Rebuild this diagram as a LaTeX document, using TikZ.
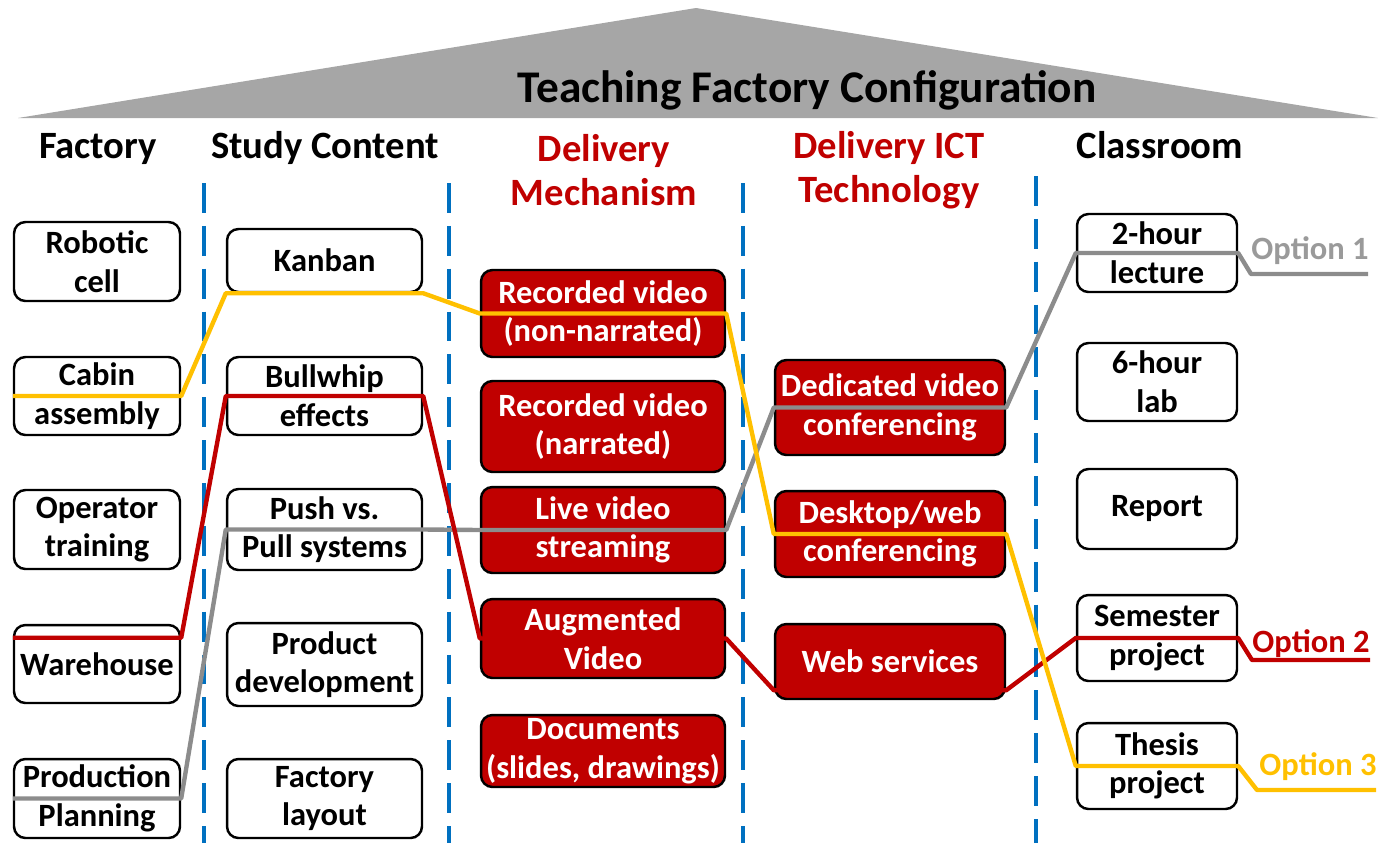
\documentclass[tikz,border=0pt]{standalone}
\usepackage{fontspec}
\setmainfont{Carlito}
\usetikzlibrary{calc}
\definecolor{tfred}{HTML}{C00000}
\definecolor{tfyellow}{HTML}{FFC000}
\definecolor{tfgray}{HTML}{8C8C8C}
\definecolor{tfroof}{HTML}{A6A6A6}
\definecolor{tfblue}{HTML}{0070C0}
\definecolor{tfopt}{HTML}{9A9A9A}
\newcommand\tfboxfont{\fontsize{18.5}{22}\selectfont\bfseries}
\newcommand\tfhdrfont{\fontsize{22}{25}\selectfont\bfseries}
\newcommand\tftitlefont{\fontsize{25.8}{30}\selectfont\bfseries}
\begin{document}
\begin{tikzpicture}[x=0.02cm,y=-0.02cm,
  wbox/.style={draw=black, line width=1.4pt, rounded corners=6.5pt, fill=white,
    align=center, inner sep=0pt, font=\tfboxfont},
  rbox/.style={wbox, fill=tfred, text=white},
  fcol/.style={minimum width=3.32cm},
  scol/.style={minimum width=3.9cm},
  dcol/.style={minimum width=4.88cm},
  icol/.style={minimum width=4.6cm},
  ccol/.style={minimum width=3.2cm},
  hdr/.style={font=\tfhdrfont, align=center, inner sep=0pt},
  sepline/.style={tfblue, line width=2.2pt, dash pattern=on 17pt off 7.4pt},
  route/.style={line width=2.5pt, line join=round},
  optlabel/.style={font=\tfboxfont, anchor=base, inner sep=0pt}
]
\useasboundingbox (0,0) rectangle (1380,843);

% roof
\fill[tfroof] (18,118) -- (696,8) -- (1378,118) -- cycle;
\node[font=\tftitlefont, anchor=base, inner sep=0pt] (title) at (807,102) {Teaching Factory Configuration};

% headers
\node[hdr, anchor=base] (hfac) at (98,158) {Factory};
\node[hdr, anchor=base] (hstudy) at (325,158) {Study Content};
\node[hdr, text=tfred] (hdel) at (604,170) {Delivery\\Mechanism};
\node[hdr, text=tfred] (hict) at (889,170) {Delivery ICT\\Technology};
\node[hdr, anchor=base] (hclass) at (1160,158) {Classroom};

% separators
\draw[sepline] (204,183) -- (204,843);
\draw[sepline] (449,183) -- (449,843);
\draw[sepline] (743,183) -- (743,843);
\draw[sepline] (1036,176) -- (1036,843);

% Factory column
\node[wbox,fcol,minimum height=1.58cm] (robot) at (97,261.5) {Robotic\\cell};
\node[wbox,fcol,minimum height=1.56cm] (cabin) at (97,396) {Cabin\\assembly};
\node[wbox,fcol,minimum height=1.58cm] (oper) at (97,529.5) {Operator\\training};
\node[wbox,fcol,minimum height=1.56cm] (wh) at (97,664) {Warehouse};
\node[wbox,fcol,minimum height=1.58cm] (pp) at (97,798.5) {Production\\Planning};

% Study content column
\node[wbox,scol,minimum height=1.26cm] (kanban) at (324.5,260.5) {Kanban};
\node[wbox,scol,minimum height=1.56cm] (bull) at (324.5,396) {Bullwhip\\effects};
\node[wbox,scol,minimum height=1.62cm] (push) at (324.5,529.5) {Push vs.\\Pull systems};
\node[wbox,scol,minimum height=1.66cm] (prod) at (324.5,664.5) {Product\\development};
\node[wbox,scol,minimum height=1.58cm] (layout) at (324.5,798.5) {Factory\\layout};

% Delivery mechanism column
\node[rbox,dcol,minimum height=1.74cm] (rec1) at (603,313.5) {Recorded video\\(non-narrated)};
\node[rbox,dcol,minimum height=1.82cm] (rec2) at (603,426.5) {Recorded video\\(narrated)};
\node[rbox,dcol,minimum height=1.72cm] (live) at (603,530) {Live video\\streaming};
\node[rbox,dcol,minimum height=1.58cm] (aug) at (603,638.5) {Augmented\\Video};
\node[rbox,dcol,minimum height=1.44cm] (docs) at (603,751) {Documents\\(slides, drawings)};

% Delivery ICT column
\node[rbox,icol,minimum height=1.9cm] (ded) at (890,407.5) {Dedicated video\\conferencing};
\node[rbox,icol,minimum height=1.72cm] (desk) at (890,534) {Desktop/web\\conferencing};
\node[rbox,icol,minimum height=1.5cm] (web) at (890,661.5) {Web services};

% Classroom column
\node[wbox,ccol,minimum height=1.56cm] (lec) at (1157,253) {2-hour\\lecture};
\node[wbox,ccol,minimum height=1.56cm] (lab) at (1157,382) {6-hour\\lab};
\node[wbox,ccol,minimum height=1.6cm] (rep) at (1157,509) {Report};
\node[wbox,ccol,minimum height=1.72cm] (sem) at (1157,638) {Semester\\project};
\node[wbox,ccol,minimum height=1.72cm] (thesis) at (1157,766) {Thesis\\project};

% option ends
\coordinate (o1a) at (1251,274);
\coordinate (o1b) at (1368,274);
\coordinate (o2a) at (1252,660);
\coordinate (o2b) at (1370,660);
\coordinate (o3a) at (1257,790);
\coordinate (o3b) at (1376,790);
\node[optlabel, text=tfopt] (opt1) at (1310,259) {Option 1};
\node[optlabel, text=tfred] (opt2) at (1311,652) {Option 2};
\node[optlabel, text=tfyellow] (opt3) at (1318,775) {Option 3};

% routes
\draw[route, tfgray] (pp.west) -- (pp.east) -- (push.west) -- (push.east)
  -- (live.west) -- (live.east) -- (ded.west) -- (ded.east)
  -- (lec.west) -- (lec.east) -- (o1a) -- (o1b);
\draw[route, tfred] ([yshift=-0.28cm]wh.north west) -- ([yshift=-0.28cm]wh.north east)
  -- (bull.west) -- (bull.east) -- (aug.west) -- (aug.east)
  -- ([yshift=0.2cm]web.south west) -- ([yshift=0.2cm]web.south east)
  -- (sem.west) -- (sem.east) -- (o2a) -- (o2b);
\draw[route, tfyellow] (cabin.west) -- (cabin.east) -- (kanban.south west) -- (kanban.south east)
  -- (rec1.west) -- (rec1.east) -- (desk.west) -- (desk.east)
  -- (thesis.west) -- (thesis.east) -- (o3a) -- (o3b);
\end{tikzpicture}
\end{document}
